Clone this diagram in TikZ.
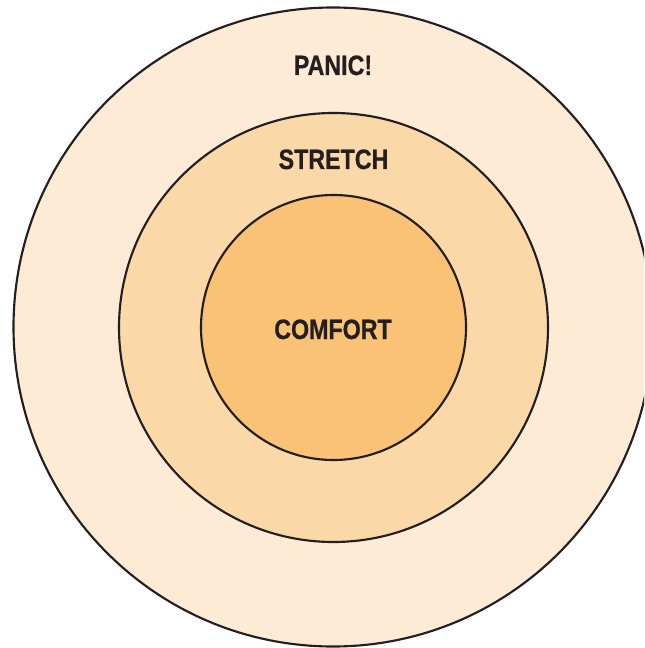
\documentclass[tikz,border=0pt]{standalone}
\usepackage{fontspec}
\usepackage{tikz}
\newfontfamily\zonefont[FakeStretch=0.83,BoldFont={Liberation Sans Bold},BoldFeatures={FakeBold=0.6}]{Liberation Sans}
\definecolor{panicFill}{RGB}{254,235,214}
\definecolor{stretchFill}{RGB}{251,216,167}
\definecolor{comfortFill}{RGB}{249,194,118}
\definecolor{zoneLine}{RGB}{35,31,32}
\definecolor{zoneText}{RGB}{35,31,32}

\begin{document}
\begin{tikzpicture}[x=0.75pt,y=-0.75pt,
  zone/.style={circle,draw=zoneLine,line width=1.6pt,inner sep=0pt},
  lbl/.style ={anchor=base,inner sep=0pt,text=zoneText,font=\zonefont\bfseries\fontsize{21}{21}\selectfont}]
\useasboundingbox (0,0) rectangle (644,648);
\clip (0,0) rectangle (644,648);
\node[zone,fill=panicFill,minimum size=639*0.75pt]   (panic)   at (333,327) {};
\node[zone,fill=stretchFill,minimum size=429*0.75pt] (stretch) at (333.5,327.5) {};
\node[zone,fill=comfortFill,minimum size=265*0.75pt] (comfort) at (333.5,327.5) {};
\node[lbl] (panicLbl)   at (333,75)    {PANIC!};
\node[lbl] (stretchLbl) at (333.5,169) {STRETCH};
\node[lbl] (comfortLbl) at (333,339)   {COMFORT};
\end{tikzpicture}
\end{document}
